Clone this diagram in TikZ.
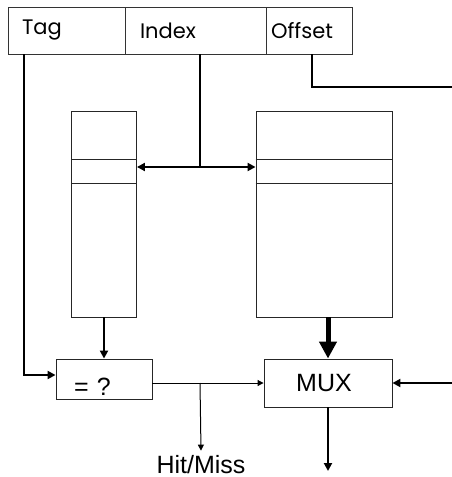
\documentclass[tikz,border=0pt]{standalone}
\usepackage{fontspec}
\setmainfont{Liberation Sans}
\newfontfamily\fieldfont{Poppins}
\usetikzlibrary{arrows.meta}
\begin{document}
\begin{tikzpicture}[x=1pt, y=-1pt]
    % Define node styles
    \tikzstyle{field} = [draw=black!80, line width=0.8pt, minimum height=47pt, align=left, font=\fieldfont\fontsize{21}{24}\selectfont]
    \tikzstyle{store} = [draw=black!85, line width=0.9pt, minimum height=206pt, inner sep=0pt]
    \tikzstyle{block} = [draw=black!85, line width=0.9pt, inner sep=0pt, font=\fontsize{25}{30}\selectfont]
    \tikzstyle{bus} = [line width=2.8pt]
    \tikzstyle{wire} = [line width=1pt]
    \tikzstyle{pointer} = [-{Triangle[length=8pt, width=8pt]}]
    \tikzstyle{smallptr} = [-{Triangle[length=6pt, width=6pt]}]

    \useasboundingbox (0,0) rectangle (452,477);

    % Address fields
    \node[field, text width=89pt, inner xsep=14pt] (tag) at (66.5,30.5) {Tag};
    \node[field, text width=111pt, inner xsep=15pt] (idx) at (195.5,30.5) {Index};
    \node[field, text width=76pt, inner xsep=5pt] (off) at (309,30.5) {Offset};

    % Tag and data arrays
    \node[store, minimum width=65pt] (tagstore) at (104,214) {};
    \node[store, minimum width=136pt] (datastore) at (324,214) {};
    \foreach \y in {159,183} {
        \draw[line width=0.9pt, black!85] (tagstore.west |- 0,\y) -- (tagstore.east |- 0,\y);
        \draw[line width=0.9pt, black!85] (datastore.west |- 0,\y) -- (datastore.east |- 0,\y);
    }

    % Compare, mux, outputs
    \node[block, minimum width=96pt, minimum height=40pt, text width=60pt, inner xsep=18pt, inner ysep=2pt, align=left, text height=34pt, text depth=2pt] (cmp) at (104,379) {= ?};
    \node[block, minimum width=128pt, minimum height=48pt] (mux) at (328,383) {\hspace*{-8pt}MUX};
    \node[anchor=base, inner sep=4pt, font=\fontsize{25}{30}\selectfont] (hit) at (201,473) {Hit/Miss};

    \coordinate (split) at (200,167);
    \coordinate (tagbend) at (24,375);
    \coordinate (offbend) at (312,87);
    \coordinate (offend) at (452,87);
    \coordinate (hitsplit) at (200,383);
    \coordinate (muxin) at (452,383);
    \coordinate (muxout) at (328,471);

    % Edges
    \draw[bus] (split |- idx.south) -- (split);
    \draw[bus, pointer] (split) -- (tagstore.east |- split);
    \draw[bus, pointer] (split) -- (datastore.west |- split);
    \draw[bus] (offbend |- off.south) -- (offbend) -- (offend);
    \draw[bus, pointer] (tagbend |- tag.south) -- (tagbend) -- (cmp.west |- tagbend);
    \draw[line width=2.2pt, pointer] (tagstore.south) -- (cmp.north);
    \draw[line width=5pt, -{Triangle[length=17pt, width=17pt]}] (datastore.south -| mux.north) -- (mux.north);
    \draw[wire, smallptr] (cmp.east |- mux.west) -- (mux.west);
    \draw[wire, smallptr] (hitsplit) -- (hit.north);
    \draw[bus, pointer] (muxin) -- (mux.east);
    \draw[bus, pointer] (mux.south) -- (muxout);
\end{tikzpicture}
\end{document}
